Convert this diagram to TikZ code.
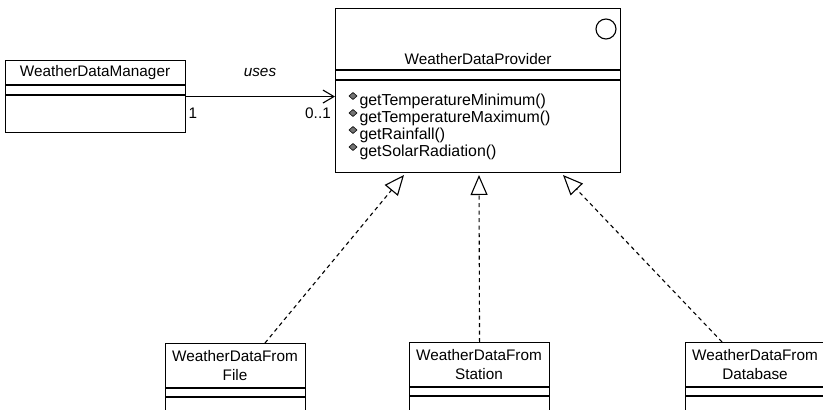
\documentclass[tikz,border=0pt]{standalone}
\usepackage{fontspec}
\setmainfont{Liberation Sans}
\usetikzlibrary{arrows.meta}
\begin{document}
\begin{tikzpicture}[x=1pt,y=-1pt, line width=1.1pt,
  every node/.style={font=\fontsize{15.3}{19}\selectfont, inner sep=0pt},
  cls/.style={draw, anchor=north west, minimum width=#1},
  real/.style={draw, dash pattern=on 4pt off 3.5pt, -{Triangle[open, length=20pt, width=17pt, line width=1.1pt]}},
  meth/.style={anchor=west, font=\fontsize{15.9}{19}\selectfont},
  ico/.style={fill=black!55, draw=black, line width=0.6pt}]
\clip (0,0) rectangle (823,410);
\fill[white] (0,0) rectangle (823,410);

% WeatherDataManager
\node[cls=180pt, minimum height=72pt] (mgr) at (5,60) {};
\node (mgrname) at (95,73) {WeatherDataManager};
\draw (5,85) -- (185,85) (5,95) -- (185,95);

% WeatherDataProvider
\node[cls=285pt, minimum height=164pt] (prov) at (335,8) {};
\node (provname) at (478,59) {WeatherDataProvider};
\draw (335,70) -- (620,70) (335,80) -- (620,80);
\node[draw, circle, minimum size=20pt] (icon) at (606,29) {};
\foreach \y/\t [count=\i] in {101/getTemperatureMinimum(), 118/getTemperatureMaximum(), 135/getRainfall(), 152/getSolarRadiation()}{
  \node[meth] (m\i) at (359,\y) {\t};
  \path[ico] (349,\y-5) -- (353,\y-8.5) -- (357,\y-5) -- (353,\y-1.5) -- cycle;
}

% association
\draw[-{Straight Barb[length=11pt, width=13pt, line width=1.1pt]}] (mgr.east) -- (mgr.east -| prov.west);
\node (uses) at (260,72) {\itshape uses};
\node (one) at (193,113) {1};
\node (zeroone) at (318,113) {0..1};

% subclasses
\node[cls=140pt, minimum height=90pt] (file) at (165,343) {};
\node[align=center] (filename) at (235,366) {WeatherDataFrom\\File};
\draw (165,388) -- (305,388) (165,397) -- (305,397);

\node[cls=140pt, minimum height=90pt] (station) at (409,342) {};
\node[align=center] (stationname) at (479,365) {WeatherDataFrom\\Station};
\draw (409,387) -- (549,387) (409,396) -- (549,396);

\node[cls=145pt, minimum height=90pt] (db) at (685,342) {};
\node[align=center] (dbname) at (755,365) {WeatherDataFrom\\Database};
\draw (685,387) -- (830,387) (685,396) -- (830,396);

\coordinate (t1) at (404,175);
\coordinate (t2) at (479,175);
\coordinate (t3) at (563,175);
\coordinate (f0) at (265,343);
\coordinate (d0) at (722,342);
\draw[real] (f0) -- (t1);
\draw[real] (station.north) -- (t2);
\draw[real] (d0) -- (t3);
\end{tikzpicture}
\end{document}
